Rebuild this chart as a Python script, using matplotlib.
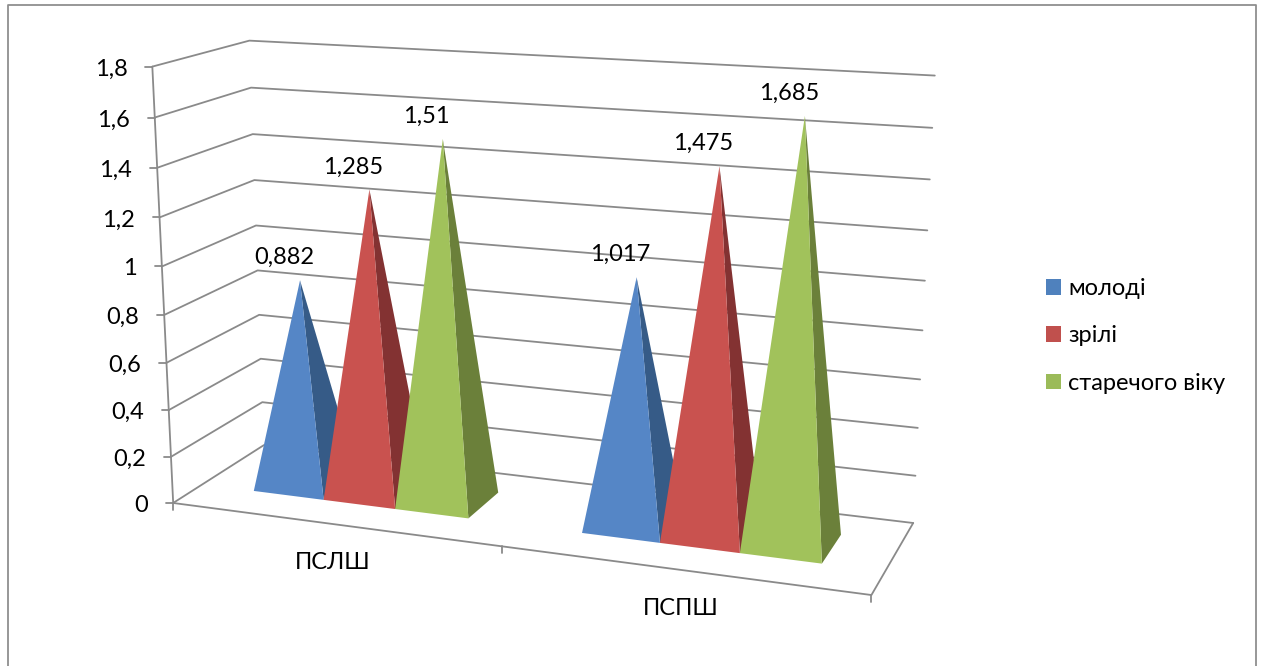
import numpy as np
import matplotlib
matplotlib.use("Agg")
import matplotlib.pyplot as plt
from matplotlib.patches import Polygon, Patch

plt.rcParams['font.family'] = ['Lato', 'Noto Sans', 'DejaVu Sans']

# Chart data
categories = ['ПСЛШ', 'ПСПШ']
series_names = ['молоді', 'зрілі', 'старечого віку']
molodi = [0.882, 1.017]
zrili = [1.285, 1.475]
starechoho = [1.51, 1.685]
value_ticks = [0, 0.2, 0.4, 0.6, 0.8, 1, 1.2, 1.4, 1.6, 1.8]

# Styling
front_colors = ['#5586c6', '#c9524f', '#a1c25b']
side_colors = ['#365b87', '#833232', '#6b803a']
legend_colors = ['#4f81bd', '#c0504d', '#9bbb59']
line_color = '#8a8a8a'
font_size = 17
W, H = 1261, 666

# Camera of the 3-D scene: (category, depth, value) -> screen pixels,
# solved from reference points of the plot box.
scene = np.array([[0, 0, 0], [0, 0, 1.8], [0, 1, 0], [0, 1, 1.8], [0, 1, 1],
                  [2, 1, 0], [2, 1, 1.8], [2, 1, 1], [2, 0, 0], [1, 0, 0], [0, 0, 1]], float)
screen = np.array([[173, 503], [152.7, 67], [265, 446], [249, 40.5], [255, 225],
                   [913, 522], [935, 76], [925, 281], [872, 595], [501, 547], [162.5, 265.5]], float)
rows, rhs = [], []
for (a, b, c), (px, py) in zip(scene, screen):
    rows.append([a, b, c, 1, 0, 0, 0, 0, -px * a, -px * b, -px * c])
    rhs.append(px)
    rows.append([0, 0, 0, 0, a, b, c, 1, -py * a, -py * b, -py * c])
    rhs.append(py)
cam = np.append(np.linalg.lstsq(np.array(rows), np.array(rhs), rcond=None)[0], 1).reshape(3, 4)


def project(cat, depth, value):
    p = cam @ np.array([cat, depth, value, 1.0])
    return p[0] / p[2], p[1] / p[2]


fig = plt.figure(figsize=(W / 100, H / 100), dpi=100)
ax = fig.add_axes([0, 0, 1, 1])
ax.set_xlim(0, W)
ax.set_ylim(H, 0)
ax.axis('off')

# Outer chart frame, open at the bottom of the canvas
ax.plot([8, 8, 1255.5, 1255.5], [H, 5, 5, H], color='#8f8f8f', lw=1.3)

line_kw = dict(color=line_color, lw=1.3, solid_capstyle='round', zorder=1)
top = max(value_ticks)

# Gridlines on the side and back walls, ticks and value labels
for v in value_ticks:
    pts = [project(0, 0, v), project(0, 1, v), project(2, 1, v)]
    ax.plot(*zip(*pts), **line_kw)
    x0, y0 = pts[0]
    ax.plot([x0 - 7, x0], [y0, y0], **line_kw)
    ax.text(x0 - 25, y0 + 2.5, f'{v:g}'.replace('.', ','), ha='right', va='center',
            fontsize=font_size, color='black')

# Floor outline and axes
floor = [project(0, 0, 0), project(2, 0, 0), project(2, 1, 0)]
ax.plot(*zip(*floor), **line_kw)
ax.plot(*zip(project(0, 0, 0), project(0, 0, top)), **line_kw)
for u in range(len(categories) + 1):
    x0, y0 = project(u, 0, 0)
    ax.plot([x0, x0], [y0, y0 + 7], **line_kw)

# Pyramids
series = [molodi, zrili, starechoho]
start, width = 0.167, 0.222
d_front, d_back = 0.305, 0.715
for c in range(len(categories)):
    for s, values in enumerate(series):
        v = values[c]
        u0 = c + start + s * width
        u1 = u0 + width
        apex = project((u0 + u1) / 2, (d_front + d_back) / 2, v)
        fl, fr = project(u0, d_front, 0), project(u1, d_front, 0)
        br = project(u1, d_back, 0)
        z = 3 + c * 10 + s
        ax.add_patch(Polygon([fr, br, apex], closed=True, fc=side_colors[s], ec='none', zorder=z))
        ax.add_patch(Polygon([fl, fr, apex], closed=True, fc=front_colors[s], ec='none', zorder=z))
        ax.text(apex[0] - 16, apex[1] - 22.5, f'{v:g}'.replace('.', ','), ha='center', va='center',
                fontsize=font_size, color='black', zorder=40)

# Category labels
for c, name in enumerate(categories):
    x0, y0 = project(c + 0.5, 0, 0)
    ax.text(x0 - 0.5, y0 + 38.5, name, ha='center', va='center', fontsize=font_size, color='black')

# Legend
handles = [Patch(fc=col, ec='none', label=n) for col, n in zip(legend_colors, series_names)]
ax.legend(handles=handles, loc='center left', bbox_to_anchor=(1046 / W, 1 - 336 / H),
          frameon=False, fontsize=font_size, handlelength=0.635, handleheight=0.635,
          handletextpad=0.3, labelspacing=1.12, borderpad=0, borderaxespad=0)

fig.savefig('out.png', dpi=100)
